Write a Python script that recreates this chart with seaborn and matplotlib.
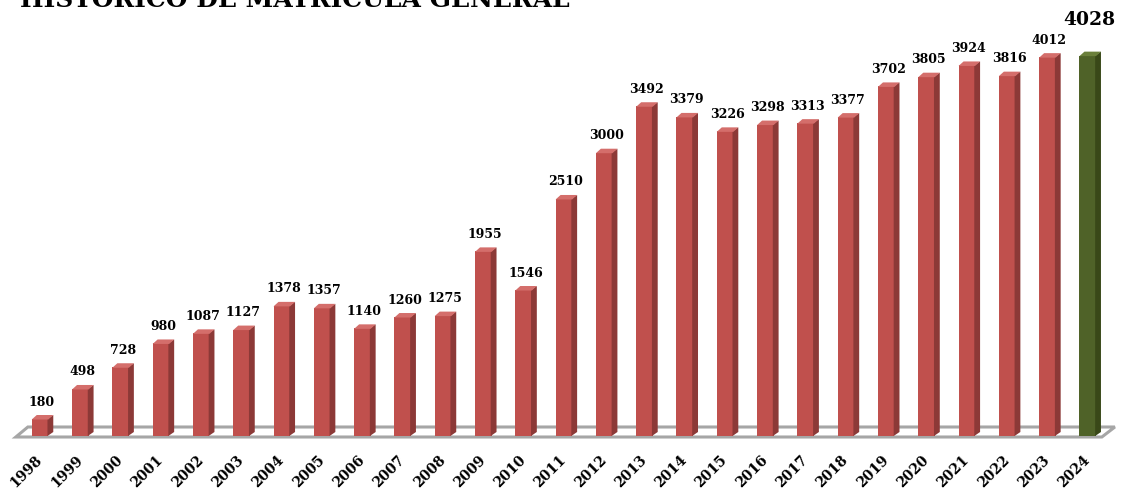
import matplotlib
matplotlib.use("Agg")
import matplotlib.pyplot as plt
import seaborn as sns
import pandas as pd
from matplotlib.patches import Polygon
from matplotlib.transforms import IdentityTransform

# Enrolment history
years = ["1998", "1999", "2000", "2001", "2002", "2003", "2004", "2005", "2006",
         "2007", "2008", "2009", "2010", "2011", "2012", "2013", "2014", "2015",
         "2016", "2017", "2018", "2019", "2020", "2021", "2022", "2023", "2024"]
enrolment = [180, 498, 728, 980, 1087, 1127, 1378, 1357, 1140, 1260, 1275, 1955,
             1546, 2510, 3000, 3492, 3379, 3226, 3298, 3313, 3377, 3702, 3805,
             3924, 3816, 4012, 4028]
title = "HISTORICO DE MATRICULA GENERAL"

RED = ("#C0504D", "#8C3937", "#D46E6B")    # front, side, top
GREEN = ("#4F6228", "#394818", "#6A7F3A")
DEPTH = (5, 4)                             # pixel offset of the 3D depth
SERIF = "DejaVu Serif"

df = pd.DataFrame({"year": years, "value": enrolment})
shades = [GREEN if i == len(years) - 1 else RED for i in range(len(years))]

sns.set_theme(style="white")
plt.rcParams["font.family"] = [SERIF]

fig = plt.figure(figsize=(11.23, 4.89), dpi=100)
ax = fig.add_axes([0.0141, 52 / 489, 0.976, 0.869])

sns.barplot(data=df, x="year", y="value", hue="year",
            palette=[s[0] for s in shades], legend=False,
            width=0.41, saturation=1, linewidth=0, ax=ax, zorder=3)
ax.set_xlim(-0.6, len(years) - 0.4)
ax.set_ylim(0, 4500)
for sp in ax.spines.values():
    sp.set_visible(False)
ax.set_yticks([])
ax.set_xlabel("")
ax.set_ylabel("")
ax.tick_params(axis="x", length=0, pad=15)
for lbl in ax.get_xticklabels():
    lbl.set_rotation(45)
    lbl.set_ha("right")
    lbl.set_va("center")
    lbl.set_rotation_mode("anchor")
    lbl.set_fontweight("bold")
    lbl.set_fontsize(10)
    lbl.set_color("black")

fig.canvas.draw()
to_px = ax.transData.transform
dx, dy = DEPTH
ident = IdentityTransform()

# floor slab under the bars
(fl, fb) = to_px((-0.6, 0))
(fr, _) = to_px((len(years) - 0.4, 0))
floor_top = Polygon([(fl, fb - 1), (fr - 10, fb - 1), (fr + 3, fb + 9), (fl + 12, fb + 9)],
                    closed=True, transform=ident, facecolor="white",
                    edgecolor="#A6A6A6", linewidth=2.2, zorder=1, clip_on=False)
ax.add_patch(floor_top)

# side and top faces of each bar
bars = list(ax.patches[:len(years)])
for patch, shade in zip(bars, shades):
    x0 = patch.get_x()
    x1 = x0 + patch.get_width()
    h = patch.get_height()
    (px0, py0) = to_px((x0, 0))
    (px1, py1) = to_px((x1, h))
    side = Polygon([(px1 - 0.8, py0), (px1 + dx, py0 + dy), (px1 + dx, py1 + dy),
                    (px1 - 0.8, py1)],
                   closed=True, transform=ident, facecolor=shade[1],
                   edgecolor="none", zorder=4, clip_on=False)
    top = Polygon([(px0, py1 - 0.5), (px1, py1 - 0.5), (px1 + dx, py1 + dy),
                   (px0 + dx, py1 + dy)],
                  closed=True, transform=ident, facecolor=shade[2],
                  edgecolor="none", zorder=4, clip_on=False)
    ax.add_patch(side)
    ax.add_patch(top)

# value labels
for i, (patch, v) in enumerate(zip(bars, enrolment)):
    cx = patch.get_x() + patch.get_width() / 2
    last = i == len(enrolment) - 1
    ax.annotate(f"{v}", (cx, v), xytext=(2, 37 if last else 18),
                textcoords="offset pixels", ha="center", va="center",
                fontsize=13.5 if last else 9, fontweight="bold",
                color="black", zorder=5, annotation_clip=False)

fig.text(20 / 1123, 1 - 7 / 489, title, ha="left", va="baseline",
         fontsize=18, fontweight="bold", color="black")

fig.savefig("out.png", dpi=100)
